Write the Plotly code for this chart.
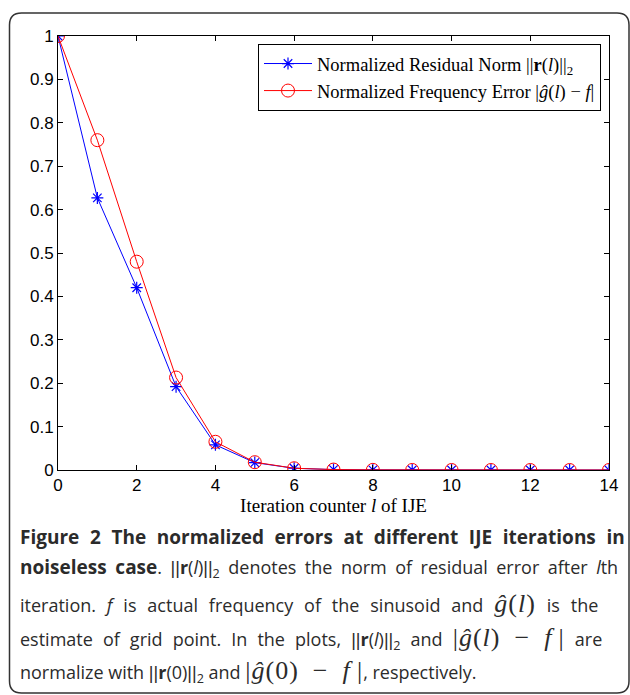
import plotly.graph_objects as go

iterations = list(range(15))
residual_norm = [1.0, 0.627, 0.42, 0.192, 0.058, 0.017, 0.004, 0.001, 0.0003, 0.0001, 0.0, 0.0, 0.0, 0.0, 0.0]
freq_error = [1.0, 0.76, 0.48, 0.213, 0.065, 0.018, 0.004, 0.001, 0.0003, 0.0001, 0.0, 0.0, 0.0, 0.0, 0.0]
series_names = [
    "Normalized Residual Norm ||<b>r</b>(<i>l</i>)||<sub>2</sub>",
    "Normalized Frequency Error |<i>\u011d</i>(<i>l</i>) \u2212 <i>f</i>|",
]

W, H = 630, 695
ML, MR, MT, MB = 58, 21, 36, 225
PW, PH = W - ML - MR, H - MT - MB


def px(x):
    return (x - ML) / PW


def py(y):
    return (H - MB - y) / PH


fig = go.Figure()
fig.add_trace(go.Scatter(
    x=iterations, y=residual_norm, name=series_names[0], mode="lines+markers",
    line=dict(color="#0000ff", width=1),
    marker=dict(symbol="asterisk-open", size=10, color="#0000ff", line=dict(color="#0000ff", width=1.2)),
))
fig.add_trace(go.Scatter(
    x=iterations, y=freq_error, name=series_names[1], mode="lines+markers",
    line=dict(color="#ff0000", width=1),
    marker=dict(symbol="circle-open", size=13, color="#ff0000", line=dict(color="#ff0000", width=1)),
))

axis_common = dict(
    showline=True, linecolor="black", linewidth=1, mirror="ticks",
    ticks="inside", ticklen=5, tickcolor="black", showgrid=False, zeroline=False,
    tickfont=dict(family="Liberation Sans", size=17, color="black"),
)
fig.update_xaxes(range=[0, 14], dtick=2, tick0=0,
                 title=dict(text="Iteration counter <i>l</i> of IJE",
                            font=dict(family="Liberation Serif", size=19, color="black"), standoff=2),
                 **axis_common)
fig.update_yaxes(range=[0, 1], dtick=0.1, tick0=0, **axis_common)

# rounded border around whole figure
x0, x1 = px(9.5), px(629)
y0, y1 = py(693), py(13)
rx, ry = 12 / PW, 12 / PH
path = (f"M {x0+rx},{y1} L {x1-rx},{y1} Q {x1},{y1} {x1},{y1-ry} "
        f"L {x1},{y0+ry} Q {x1},{y0} {x1-rx},{y0} L {x0+rx},{y0} "
        f"Q {x0},{y0} {x0},{y0+ry} L {x0},{y1-ry} Q {x0},{y1} {x0+rx},{y1} Z")
fig.add_shape(type="path", path=path, xref="paper", yref="paper",
              line=dict(color="#333333", width=1.5), layer="above")

gcol = "#2b2b2b"
math = 'font-family:Liberation Serif;font-size:26px;letter-spacing:1px'
bold19 = 'font-size:19px'
bars = '<span style="font-family:Liberation Sans">||</span>'
en = "\u2002"
th = "\u2009"
norm_l = f"{bars}<b>r</b>(<i>l</i>){bars}<sub>2</sub>"
norm_0 = f"{bars}<b>r</b>(0){bars}<sub>2</sub>"
caption_lines = [
    (f"<span style=\"{bold19}\"><b>Figure 2 The normalized errors at different IJE iterations in</b></span>", 537, 5.7),
    (f"<span style=\"{bold19}\"><b>noiseless case</b></span>. {norm_l} denotes the norm of residual error after <i>l</i>th", 568, 3.8),
    (f"iteration. <i>f</i> is actual frequency of the sinusoid and <span style=\"{math}\"><i>\u011d</i>(<i>l</i>)</span> is the", 603, 6.2),
    (f"estimate of grid point. In the plots, {norm_l} and <span style=\"{math}\">|<i>\u011d</i>(<i>l</i>){en}\u2212{en}<i>f</i>{th}|</span> are", 638, 5.4),
    (f"normalize with {norm_0} and <span style=\"{math}\">|<i>\u011d</i>(0){en}\u2212{en}<i>f</i>{th}|</span>, respectively.", 671, 0),
]
for text, yc, ws in caption_lines:
    fig.add_annotation(text=f"<span style=\"word-spacing:{ws}px\">{text}</span>",
                       x=px(18), y=py(yc), xref="paper", yref="paper",
                       xanchor="left", yanchor="middle", showarrow=False,
                       font=dict(family="Open Sans", size=18, color=gcol))

fig.update_layout(
    width=W, height=H,
    margin=dict(l=ML, r=MR, t=MT, b=MB),
    paper_bgcolor="white", plot_bgcolor="white",
    showlegend=True,
    legend=dict(x=px(601), y=py(44), xanchor="right", yanchor="top",
                bordercolor="black", borderwidth=1, bgcolor="white",
                font=dict(family="Liberation Serif", size=18.5, color="black"),
                tracegroupgap=0, itemwidth=48),
)

fig.write_html("out.html")
